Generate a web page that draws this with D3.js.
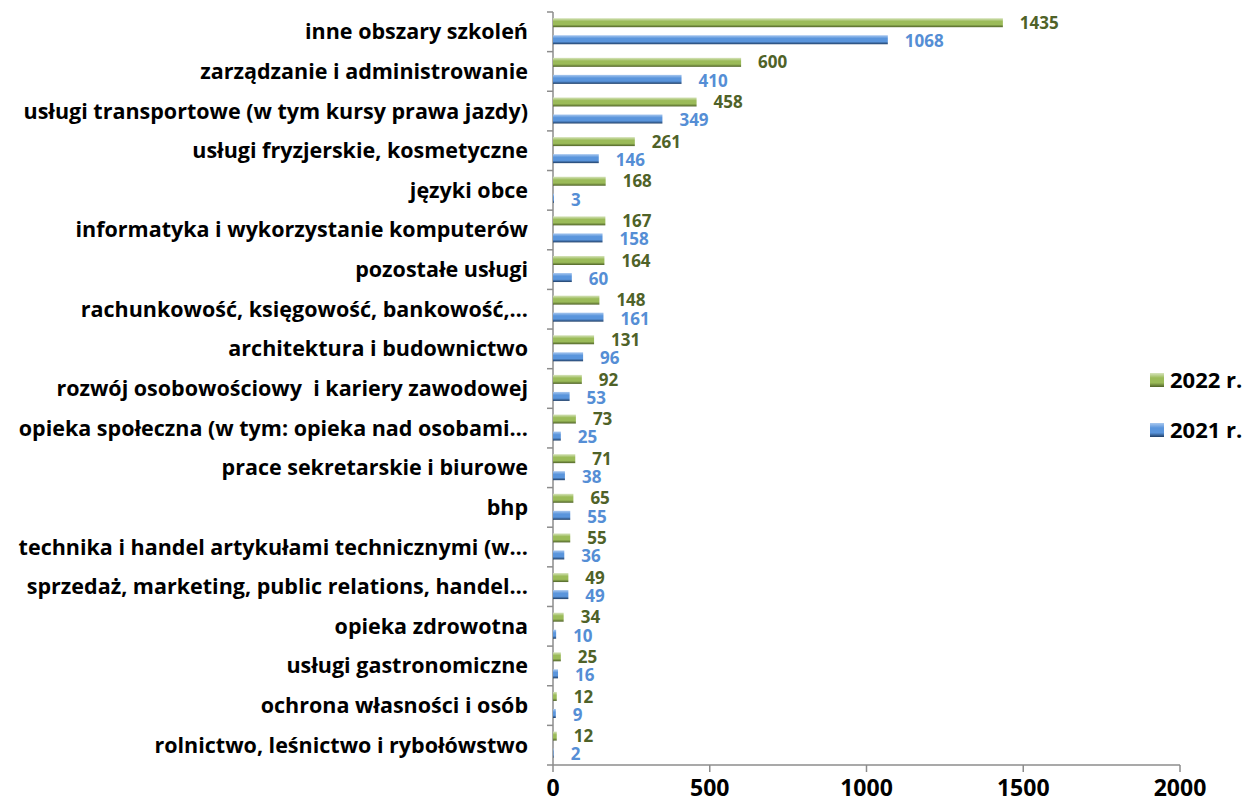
<!DOCTYPE html>
<html>
<head>
<meta charset="utf-8">
<script src="https://cdn.jsdelivr.net/npm/d3@7"></script>
<style>
  body { margin: 0; background: #fff; }
  text { font-family: "Open Sans", Lato, sans-serif; font-weight: bold; white-space: pre; }
</style>
</head>
<body>
<div id="chart"></div>
<script>
// categories from top to bottom
var categories = [
  "inne obszary szkoleń",
  "zarządzanie i administrowanie",
  "usługi transportowe (w tym kursy prawa jazdy)",
  "usługi fryzjerskie, kosmetyczne",
  "języki obce",
  "informatyka i wykorzystanie komputerów",
  "pozostałe usługi",
  "rachunkowość, księgowość, bankowość,…",
  "architektura i budownictwo",
  "rozwój osobowościowy  i kariery zawodowej",
  "opieka społeczna (w tym: opieka nad osobami…",
  "prace sekretarskie i biurowe",
  "bhp",
  "technika i handel artykułami technicznymi (w…",
  "sprzedaż, marketing, public relations, handel…",
  "opieka zdrowotna",
  "usługi gastronomiczne",
  "ochrona własności i osób",
  "rolnictwo, leśnictwo i rybołówstwo"
];
var values2022 = [1435, 600, 458, 261, 168, 167, 164, 148, 131, 92, 73, 71, 65, 55, 49, 34, 25, 12, 12];
var values2021 = [1068, 410, 349, 146, 3, 158, 60, 161, 96, 53, 25, 38, 55, 36, 49, 10, 16, 9, 2];
var seriesNames = ["2022 r.", "2021 r."];
var xTicks = [0, 500, 1000, 1500, 2000];

var W = 1249, H = 802;
var margin = {top: 12, left: 553, right: 69, bottom: 37};
var width = W - margin.left - margin.right,
    height = H - margin.top - margin.bottom;

var svg = d3.select("#chart").append("svg")
    .attr("width", W).attr("height", H);

var defs = svg.append("defs");
function grad(id, c1, c2, c3) {
  var g = defs.append("linearGradient").attr("id", id)
    .attr("x1", 0).attr("y1", 0).attr("x2", 0).attr("y2", 1);
  g.append("stop").attr("offset", "0%").attr("stop-color", c1);
  g.append("stop").attr("offset", "35%").attr("stop-color", c2);
  g.append("stop").attr("offset", "70%").attr("stop-color", c2);
  g.append("stop").attr("offset", "100%").attr("stop-color", c3);
}
grad("gGreen", "#d7e4bd", "#9bbb59", "#4f6228");
grad("gBlue", "#a9c8ef", "#5a95dc", "#1f3e66");

var g = svg.append("g").attr("transform", "translate(" + margin.left + "," + margin.top + ")");

var x = d3.scaleLinear().domain([0, 2000]).range([0, width]);
var y = d3.scaleBand().domain(categories).range([0, height]);
var bw = y.bandwidth();

// x axis
g.append("line").attr("x1", 0).attr("x2", width).attr("y1", height).attr("y2", height)
  .attr("stroke", "#8c8c8c").attr("stroke-width", 1.5);
g.selectAll(".xt").data(xTicks).enter().append("line")
  .attr("x1", function(d){ return x(d); }).attr("x2", function(d){ return x(d); })
  .attr("y1", height).attr("y2", height + 7)
  .attr("stroke", "#8c8c8c").attr("stroke-width", 1.5);
g.selectAll(".xl").data(xTicks).enter().append("text")
  .attr("x", function(d){ return x(d); }).attr("y", height + 31)
  .attr("text-anchor", "middle").attr("font-size", 23).attr("fill", "#000")
  .text(function(d){ return d; });

// y axis
g.append("line").attr("x1", 0).attr("x2", 0).attr("y1", 0).attr("y2", height)
  .attr("stroke", "#8c8c8c").attr("stroke-width", 1.5);
g.selectAll(".yt").data(d3.range(categories.length + 1)).enter().append("line")
  .attr("x1", -6).attr("x2", 0)
  .attr("y1", function(i){ return i * bw; }).attr("y2", function(i){ return i * bw; })
  .attr("stroke", "#8c8c8c").attr("stroke-width", 1.5);

// category labels
g.selectAll(".cl").data(categories).enter().append("text")
  .attr("x", -25).attr("y", function(d){ return y(d) + bw / 2; })
  .attr("dy", "0.35em").attr("text-anchor", "end")
  .attr("font-size", 21.5).attr("fill", "#000")
  .text(function(d){ return d; });

var barH = 9;
var series = [
  {name: seriesNames[0], values: values2022, fill: "url(#gGreen)", label: "#4f6228", off: 0.27, loff: 0.25},
  {name: seriesNames[1], values: values2021, fill: "url(#gBlue)", label: "#558ed5", off: 0.70, loff: 0.71}
];

series.forEach(function(s) {
  g.selectAll(null).data(categories).enter().append("rect")
    .attr("x", 0)
    .attr("y", function(d){ return y(d) + bw * s.off - barH / 2; })
    .attr("width", function(d, i){ return x(s.values[i]); })
    .attr("height", barH)
    .attr("fill", s.fill);
  g.selectAll(null).data(categories).enter().append("text")
    .attr("x", function(d, i){ return x(s.values[i]) + 17; })
    .attr("y", function(d){ return y(d) + bw * s.loff + 1; })
    .attr("dy", "0.35em")
    .attr("font-size", 17).attr("fill", s.label)
    .text(function(d, i){ return s.values[i]; });
});

// legend
var legend = svg.append("g").attr("transform", "translate(1150,373)");
series.forEach(function(s, i) {
  var lg = legend.append("g").attr("transform", "translate(0," + (i * 50) + ")");
  lg.append("rect").attr("width", 14).attr("height", 14).attr("fill", s.fill);
  lg.append("text").attr("x", 20).attr("y", 7).attr("dy", "0.35em")
    .attr("font-size", 22).attr("fill", "#000").text(s.name);
});
</script>
</body>
</html>
